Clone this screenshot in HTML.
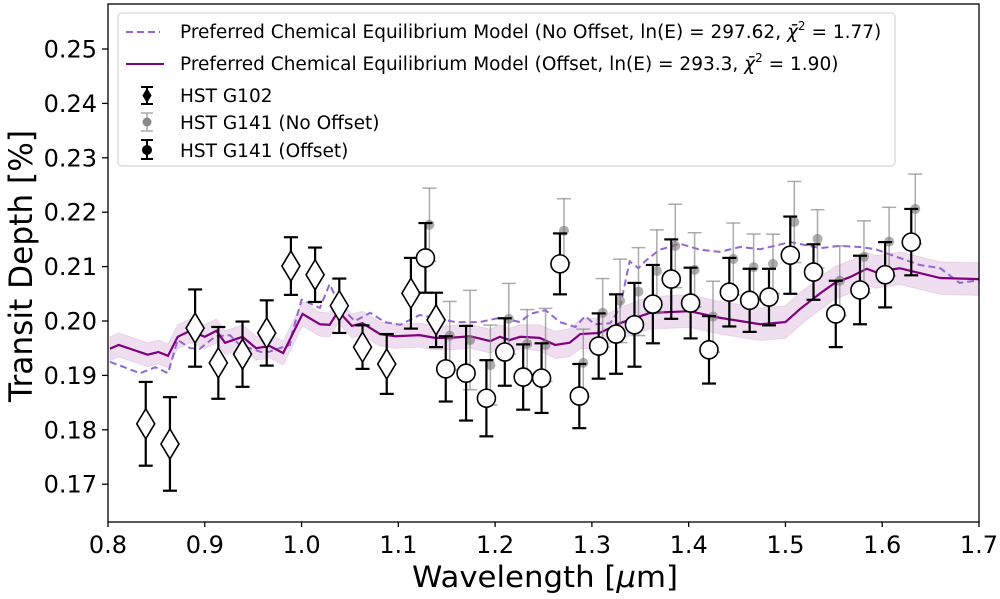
<!DOCTYPE html>
<html><head><meta charset="utf-8"><style>
html,body{margin:0;padding:0;background:#fff}
svg{display:block;font-family:"DejaVu Sans","Liberation Sans",sans-serif}
</style></head><body>
<svg id="chart" width="1000" height="599" viewBox="0 0 1000 599" xmlns="http://www.w3.org/2000/svg">
<g id="band"></g>
<g id="models"></g>
<g id="points"></g>
<rect x="108" y="4" width="871" height="518" fill="none" stroke="#000" stroke-width="1.3"/>
<g id="axes"></g>
<text transform="translate(32,266) rotate(-90)" text-anchor="middle" font-size="32" textLength="272" lengthAdjust="spacingAndGlyphs">Transit Depth [%]</text>
<text x="545" y="587" text-anchor="middle" font-size="29" textLength="266" lengthAdjust="spacingAndGlyphs">Wavelength [<tspan font-style="italic">μ</tspan>m]</text>
<g>
<rect x="118" y="13" width="777" height="153" rx="4" fill="#fff" fill-opacity="0.85" stroke="#ccc" stroke-width="1"/>
<line x1="126" y1="32" x2="160" y2="32" stroke="#9467d0" stroke-width="2" stroke-dasharray="7,4"/>
<text x="180" y="38" font-size="18.5">Preferred Chemical Equilibrium Model (No Offset, ln(E) = 297.62, <tspan font-style="italic">χ̄</tspan><tspan dy="-8" font-size="12">2</tspan><tspan dy="8"> = 1.77)</tspan></text>
<line x1="126" y1="64" x2="164" y2="64" stroke="#800080" stroke-width="2"/>
<text x="180" y="70" font-size="18.5">Preferred Chemical Equilibrium Model (Offset, ln(E) = 293.3, <tspan font-style="italic">χ̄</tspan><tspan dy="-8" font-size="12">2</tspan><tspan dy="8"> = 1.90)</tspan></text>
<g stroke="#000" stroke-width="2"><line x1="147" y1="87" x2="147" y2="104"/><line x1="141" y1="87" x2="153" y2="87"/><line x1="141" y1="104" x2="153" y2="104"/><path d="M147 89 L151 95.5 L147 102 L143 95.5Z" fill="#000" stroke-width="1"/></g>
<text x="180" y="102" font-size="18.5">HST G102</text>
<g stroke="#aaa" stroke-width="1.5"><line x1="147" y1="113" x2="147" y2="131"/><line x1="141" y1="113" x2="153" y2="113"/><line x1="141" y1="131" x2="153" y2="131"/><circle cx="147" cy="122" r="4.5" fill="#888" stroke="none"/></g>
<text x="180" y="129" font-size="18.5">HST G141 (No Offset)</text>
<g stroke="#000" stroke-width="2"><line x1="147" y1="140" x2="147" y2="159"/><line x1="141" y1="140" x2="153" y2="140"/><line x1="141" y1="159" x2="153" y2="159"/><circle cx="147" cy="150" r="5" fill="#000" stroke="none"/></g>
<text x="180" y="157" font-size="18.5">HST G141 (Offset)</text>
</g>
</svg>
<script>
const xTicks=[0.8,0.9,1.0,1.1,1.2,1.3,1.4,1.5,1.6,1.7];
const yTicks=[0.17,0.18,0.19,0.20,0.21,0.22,0.23,0.24,0.25];
const g102W=[0.839,0.864,0.890,0.914,0.939,0.964,0.989,1.014,1.039,1.063,1.088,1.113,1.139];
const g102D=[0.1811,0.1774,0.1987,0.1923,0.1939,0.1978,0.2101,0.2085,0.2028,0.1952,0.1921,0.2051,0.2002];
const g102E=[0.0077,0.0086,0.0071,0.0066,0.0060,0.0060,0.0053,0.0050,0.0050,0.0040,0.0055,0.0065,0.0050];
const g141W=[1.128,1.149,1.170,1.191,1.210,1.229,1.248,1.267,1.287,1.307,1.325,1.344,1.363,1.382,1.402,1.421,1.442,1.463,1.483,1.505,1.529,1.552,1.577,1.603,1.630];
const g141D=[0.2116,0.1912,0.1904,0.1858,0.1943,0.1897,0.1895,0.2105,0.1862,0.1954,0.1976,0.1993,0.2031,0.2077,0.2033,0.1947,0.2053,0.2038,0.2044,0.2121,0.2090,0.2013,0.2057,0.2085,0.2145];
const g141E=[0.0064,0.0060,0.0087,0.0070,0.0062,0.0060,0.0064,0.0056,0.0059,0.0060,0.0073,0.0077,0.0072,0.0073,0.0065,0.0062,0.0063,0.0058,0.0052,0.0071,0.0051,0.0061,0.0063,0.0060,0.0061];
const offsetShift=0.0061;
const solidW=[0.802,0.811,0.841,0.852,0.862,0.872,0.885,0.900,0.912,0.921,0.939,0.953,0.967,0.981,1.001,1.019,1.029,1.038,1.052,1.063,1.081,1.097,1.122,1.138,1.153,1.174,1.195,1.205,1.215,1.226,1.246,1.262,1.277,1.288,1.308,1.329,1.360,1.401,1.432,1.474,1.500,1.515,1.536,1.551,1.567,1.584,1.593,1.618,1.660,1.700];
const solidD=[0.1949,0.1956,0.1938,0.1943,0.1936,0.1971,0.1982,0.1971,0.1982,0.1960,0.1971,0.1950,0.1954,0.1941,0.2013,0.1994,0.1993,0.2018,0.1991,0.1996,0.1976,0.1972,0.1974,0.1969,0.1969,0.1972,0.1963,0.1971,0.1965,0.1971,0.1969,0.1956,0.1960,0.1976,0.1978,0.1996,0.2015,0.2018,0.2006,0.1994,0.1998,0.2022,0.2051,0.2070,0.2081,0.2096,0.2090,0.2097,0.2079,0.2077];
const bandHalf=[0.0022,0.0022,0.0022,0.0022,0.0022,0.0022,0.0022,0.0022,0.0022,0.0022,0.0022,0.0022,0.0022,0.0022,0.0022,0.0022,0.0022,0.0022,0.0022,0.0022,0.0022,0.0022,0.0022,0.0022,0.0022,0.0022,0.0022,0.0022,0.0022,0.0022,0.0024,0.0025,0.0026,0.0027,0.0028,0.0029,0.0030,0.0030,0.0030,0.0030,0.0030,0.0030,0.0030,0.0030,0.0030,0.0030,0.0030,0.0030,0.0030,0.0030];
const dashW=[0.802,0.833,0.849,0.862,0.872,0.885,0.895,0.911,0.926,0.936,0.962,0.988,0.990,1.000,1.019,1.029,1.040,1.055,1.071,1.086,1.102,1.122,1.143,1.159,1.184,1.205,1.226,1.236,1.252,1.267,1.283,1.293,1.303,1.319,1.329,1.339,1.348,1.355,1.370,1.391,1.412,1.432,1.453,1.474,1.505,1.536,1.556,1.577,1.593,1.618,1.639,1.660,1.680,1.700];
const dashD=[0.1925,0.1904,0.1915,0.1904,0.1965,0.1950,0.1949,0.1972,0.1974,0.1956,0.1941,0.1956,0.1976,0.2039,0.2024,0.2068,0.2026,0.2000,0.2015,0.1998,0.1993,0.2011,0.2004,0.1998,0.1998,0.2006,0.1998,0.2013,0.2020,0.1998,0.1989,0.2009,0.1994,0.1996,0.2024,0.2110,0.2097,0.2110,0.2131,0.2142,0.2131,0.2127,0.2136,0.2132,0.2145,0.2134,0.2138,0.2136,0.2132,0.2116,0.2103,0.2097,0.2070,0.2075];

const NS='http://www.w3.org/2000/svg';
const X=w=>108+(w-0.8)/0.9*871;
const Y=d=>321-(d-0.20)*5440;
function mk(tag,parent,attrs){const e=document.createElementNS(NS,tag);for(const k in attrs)e.setAttribute(k,attrs[k]);parent.appendChild(e);return e;}
const axes=document.getElementById('axes');
xTicks.forEach(t=>{
  const l=mk('line',axes,{x1:X(t),x2:X(t),y1:522,y2:527,stroke:'#000','stroke-width':1.3});
  
  
  const tx=mk('text',axes,{x:X(t),y:553,'text-anchor':'middle','font-size':24});
  
  
  tx.textContent=t.toFixed(1);
});
yTicks.forEach(t=>{
  const l=mk('line',axes,{x1:102,x2:108,y1:Y(t),y2:Y(t),stroke:'#000','stroke-width':1.3});
  
  
  const tx=mk('text',axes,{x:97,y:Y(t)+8.5,'text-anchor':'end','font-size':24});
  
  
  tx.textContent=t.toFixed(2);
});
const bg=document.getElementById('band');
let up=solidW.map((w,i)=>X(w)+','+Y(solidD[i]+bandHalf[i]));
let lo=solidW.map((w,i)=>X(w)+','+Y(solidD[i]-bandHalf[i])).reverse();
const band=mk('polygon',bg,{points:up.concat(lo).join(' '),fill:'#800080','fill-opacity':0.13,stroke:'#800080','stroke-opacity':0.1});


const mg=document.getElementById('models');
const dl=mk('polyline',mg,{points:dashW.map((w,i)=>X(w)+','+Y(dashD[i])).join(' '),fill:'none',stroke:'#9467d0','stroke-width':2,'stroke-dasharray':'7,4'});


const sl=mk('polyline',mg,{points:solidW.map((w,i)=>X(w)+','+Y(solidD[i])).join(' '),fill:'none',stroke:'#800080','stroke-width':2.2});


const pg=document.getElementById('points');
function errbar(g,x,d,e,col,sw,op){
  mk('line',g,{x1:x,x2:x,y1:Y(d+e),y2:Y(d-e),stroke:col,'stroke-width':sw,'stroke-opacity':op});
  mk('line',g,{x1:x-7,x2:x+7,y1:Y(d+e),y2:Y(d+e),stroke:col,'stroke-width':sw,'stroke-opacity':op});
  mk('line',g,{x1:x-7,x2:x+7,y1:Y(d-e),y2:Y(d-e),stroke:col,'stroke-width':sw,'stroke-opacity':op});
}
g141W.forEach((w,i)=>{
  const g=mk('g',pg,{});
  
  
  const x=X(w)+4,d=g141D[i]+offsetShift;
  errbar(g,x,d,g141E[i]*1.05,'#888',1.5,0.7);
  mk('circle',g,{cx:x,cy:Y(d),r:5,fill:'#777','fill-opacity':0.6});
});
g102W.forEach((w,i)=>{
  const g=mk('g',pg,{});
  
  
  const x=X(w),y=Y(g102D[i]);
  errbar(g,x,g102D[i],g102E[i],'#000',2.2,1);
  mk('path',g,{d:`M${x} ${y-15} L${x+9} ${y} L${x} ${y+15} L${x-9} ${y}Z`,fill:'#fff',stroke:'#000','stroke-width':1.6});
});
g141W.forEach((w,i)=>{
  const g=mk('g',pg,{});
  
  
  const x=X(w);
  errbar(g,x,g141D[i],g141E[i],'#000',2.2,1);
  mk('circle',g,{cx:x,cy:Y(g141D[i]),r:9,fill:'#fff',stroke:'#000','stroke-width':1.6});
});
</script>
</body></html>
